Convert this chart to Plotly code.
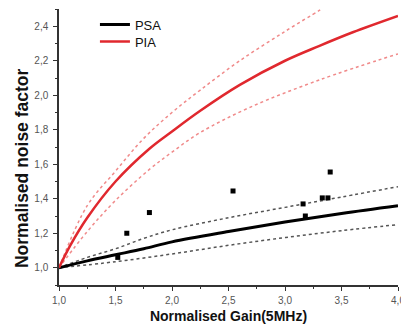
import plotly.graph_objects as go

# PSA (black) curves
psa_x = [1.0, 1.25, 1.5, 1.75, 2.0, 2.5, 3.0, 3.5, 4.0]
psa_y = [1.0, 1.04, 1.075, 1.11, 1.15, 1.21, 1.265, 1.315, 1.36]
psa_up_x = [1.0, 1.25, 1.5, 1.75, 2.0, 2.5, 3.0, 3.5, 4.0]
psa_up_y = [1.0, 1.06, 1.11, 1.17, 1.22, 1.29, 1.35, 1.41, 1.47]
psa_lo_x = [1.0, 1.5, 2.0, 2.5, 3.0, 3.5, 4.0]
psa_lo_y = [1.0, 1.035, 1.08, 1.13, 1.175, 1.215, 1.25]

# PIA (red) curves
pia_x = [1.0, 1.1, 1.25, 1.5, 1.8, 2.0, 2.25, 2.6, 3.0, 3.3, 3.6, 4.0]
pia_y = [1.0, 1.13, 1.29, 1.50, 1.69, 1.79, 1.91, 2.06, 2.20, 2.285, 2.365, 2.46]
pia_up_x = [1.0, 1.25, 1.5, 1.75, 2.0, 2.25, 2.6, 3.0, 3.3, 3.35]
pia_up_y = [1.0, 1.36, 1.56, 1.75, 1.90, 2.03, 2.20, 2.37, 2.49, 2.51]
pia_lo_x = [1.0, 1.25, 1.5, 1.8, 2.0, 2.24, 2.69, 3.31, 4.0]
pia_lo_y = [1.0, 1.21, 1.39, 1.57, 1.67, 1.78, 1.93, 2.09, 2.24]

# measured points
meas_x = [1.52, 1.60, 1.80, 2.54, 3.16, 3.18, 3.33, 3.38, 3.40]
meas_y = [1.06, 1.20, 1.32, 1.445, 1.37, 1.30, 1.405, 1.405, 1.555]

x_ticks = [1.0, 1.5, 2.0, 2.5, 3.0, 3.5, 4.0]
y_ticks = [1.0, 1.2, 1.4, 1.6, 1.8, 2.0, 2.2, 2.4]

FONT = "Liberation Sans, Arial, sans-serif"

fig = go.Figure()
fig.add_trace(go.Scatter(x=psa_up_x, y=psa_up_y, mode="lines", line=dict(color="#555555", width=1.5, dash="dot", shape="spline"), showlegend=False))
fig.add_trace(go.Scatter(x=psa_lo_x, y=psa_lo_y, mode="lines", line=dict(color="#555555", width=1.5, dash="dot", shape="spline"), showlegend=False))
fig.add_trace(go.Scatter(x=pia_up_x, y=pia_up_y, mode="lines", line=dict(color="#f08a8a", width=1.5, dash="dot", shape="spline"), showlegend=False))
fig.add_trace(go.Scatter(x=pia_lo_x, y=pia_lo_y, mode="lines", line=dict(color="#f08a8a", width=1.5, dash="dot", shape="spline"), showlegend=False))
fig.add_trace(go.Scatter(x=psa_x, y=psa_y, mode="lines", name="PSA", legend="legend", line=dict(color="black", width=3, shape="spline")))
fig.add_trace(go.Scatter(x=pia_x, y=pia_y, mode="lines", name="PIA", legend="legend2", line=dict(color="#e0282e", width=2.5, shape="spline")))
fig.add_trace(go.Scatter(x=meas_x, y=meas_y, mode="markers", marker=dict(symbol="square", size=5, color="black"), showlegend=False))

axis_common = dict(
    showline=True, linecolor="#333333", linewidth=1.5, showgrid=False, zeroline=False,
    ticks="outside", ticklen=4, tickwidth=1.2, tickcolor="#333333",
    tickfont=dict(family=FONT, size=10, color="#555555"),
    tickformat=".1f", ticklabeloverflow="allow",
)
fig.update_xaxes(
    range=[1.0, 4.0], tickvals=x_ticks, ticklabelstandoff=1,
    minor=dict(dtick=0.25, ticks="outside", ticklen=2.5, tickcolor="#333333", showgrid=False),
    title=dict(text="<b>Normalised Gain(5MHz)</b>", font=dict(family=FONT, size=14, color="#111111"), standoff=6),
    **axis_common,
)
fig.update_yaxes(
    range=[0.9, 2.5], tickvals=y_ticks, ticklabelstandoff=3,
    minor=dict(dtick=0.1, ticks="outside", ticklen=2.5, tickcolor="#333333", showgrid=False),
    **axis_common,
)
leg_common = dict(xanchor="left", yanchor="top", bgcolor="rgba(0,0,0,0)",
                  font=dict(family=FONT, size=13, color="#111111"), itemwidth=30)
fig.update_layout(
    width=401, height=334,
    margin=dict(l=59, r=3, t=9, b=49, autoexpand=False),
    plot_bgcolor="white", paper_bgcolor="white",
    separators=",.",
    legend=dict(x=0.106, y=0.998, **leg_common),
    legend2=dict(x=0.106, y=0.936, **leg_common),
    showlegend=True,
    annotations=[dict(
        text="<b>Normalised noise factor</b>", textangle=-90,
        xref="paper", yref="paper", x=-0.109, y=0.424,
        xanchor="center", yanchor="middle", showarrow=False,
        font=dict(family=FONT, size=17.5, color="#111111"),
    )],
)
# remove the default 8px page margin so the figure fills the window exactly
fig.write_html("out.html", config={"displayModeBar": False},
               post_script="document.body.style.margin='0px';")
